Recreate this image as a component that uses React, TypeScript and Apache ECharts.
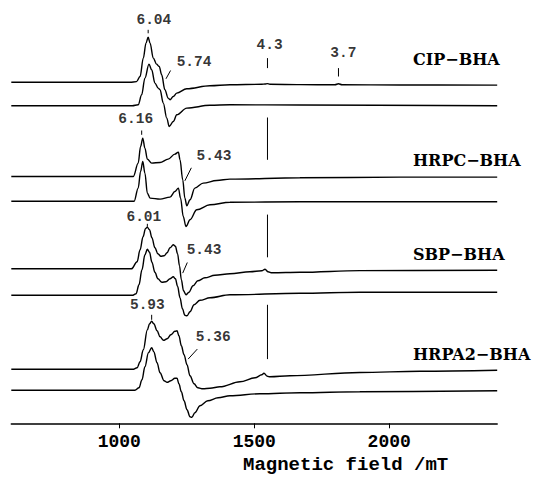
import React, { useEffect, useRef } from "react";
import * as echarts from "echarts";

// Field (mT) vs. signal relative to each trace's own baseline
const cipBhaA: [number, number][] = [
  [600, 0], [1040, 0], [1064, 0.7], [1077, 5.8], [1089, 24.2], [1099, 39.2], [1107, 45], [1114, 39.2],
  [1126, 24.2], [1138, 18.2], [1148, 15.8], [1157, 7.5], [1169, -7.5], [1181, -15.8], [1188, -17.5],
  [1200, -14.2], [1213, -10.8], [1250, -6.5], [1336, -3.5], [1410, -2.5], [1528, -2], [1540, -1.7],
  [1548, -1.3], [1558, -2], [1669, -2.3], [1799, -2.5], [1812, -1.4], [1825, -2.5], [2040, -2.7], [2400, -2.8],
];
const cipBhaB: [number, number][] = [
  [600, 0], [1048, 0], [1070, 1], [1083, 11], [1095, 27.7], [1110, 41.7], [1120, 36], [1132, 22.7],
  [1144, 17.7], [1151, 16], [1163, 2.7], [1176, -12.3], [1185, -20.7], [1200, -15.7], [1213, -9],
  [1250, -2.3], [1336, 0.5], [1410, 1], [1669, 0.8], [2400, 0],
];
const hrpcBhaA: [number, number][] = [
  [600, 0], [1052, 0], [1070, 13.4], [1079, 30], [1087, 38.4], [1095, 28.4], [1104, 17.4], [1120, 13.4],
  [1151, 14], [1181, 17.4], [1206, 22.4], [1219, 24.4], [1225, 16.7], [1235, -3.3], [1243, -21.6],
  [1250, -29.3], [1262, -23.3], [1280, -11.6], [1311, -6.6], [1361, -4], [1410, -2.6], [1669, -1.3],
  [2040, -0.6], [2400, -0.6],
];
const hrpcBhaB: [number, number][] = [
  [600, 0], [1055, 0], [1070, 13.2], [1079, 29.8], [1087, 39.8], [1095, 28.2], [1104, 8.2], [1114, 3.2],
  [1151, 2.2], [1188, 4.2], [1206, 9.8], [1219, 13.2], [1227, 3.2], [1237, -15.2], [1247, -25.2],
  [1262, -18.5], [1287, -8.5], [1336, -3.5], [1410, -1], [1669, -0.5], [2400, -0.5],
];
const sbpBhaA: [number, number][] = [
  [600, 0], [1045, 0], [1066, 7], [1077, 19], [1088, 32], [1097, 40], [1104, 41.7], [1112, 39],
  [1121, 31], [1132, 21], [1143, 15], [1154, 12.5], [1166, 13], [1177, 16], [1188, 21], [1200, 24],
  [1208, 22.5], [1216, 15], [1223, 3], [1230, -11], [1238, -22], [1247, -26], [1258, -23.5], [1273, -17],
  [1291, -12], [1317, -9], [1354, -6.5], [1410, -5], [1484, -3], [1528, -2], [1540, -0.5], [1551, -3],
  [1566, -4], [1669, -3.5], [1891, -1.8], [2400, -1.5],
];
const sbpBhaB: [number, number][] = [
  [600, 0], [1048, 0], [1062, 1.5], [1073, 10.5], [1084, 25.5], [1095, 40.5], [1104, 46], [1112, 43],
  [1121, 33], [1132, 23], [1143, 16.5], [1158, 13], [1173, 13.5], [1188, 16.5], [1200, 18.5],
  [1208, 16.5], [1216, 9], [1225, -2.5], [1234, -13.5], [1243, -20], [1251, -20.5], [1262, -16.5],
  [1277, -9.5], [1299, -5], [1336, -2.5], [1410, 0.5], [1669, 2], [1891, 3], [2400, 3],
];
const hrpa2BhaA: [number, number][] = [
  [600, 0], [1050, 0], [1066, 1.5], [1077, 7.5], [1089, 19.5], [1104, 39.5], [1112, 45.5], [1120, 48],
  [1128, 45.5], [1140, 38.5], [1151, 32.5], [1164, 29], [1177, 30.5], [1191, 34.5], [1206, 38],
  [1214, 38.5], [1221, 33.5], [1230, 23.5], [1240, 14.5], [1251, 4.5], [1262, -6.5], [1277, -14.5],
  [1291, -18.5], [1310, -19.5], [1336, -19], [1373, -17.5], [1447, -12.5], [1503, -8.5], [1528, -5.5],
  [1536, -4], [1549, -7], [1558, -7.5], [1632, -6.5], [1891, -3.2], [2114, -2], [2400, -1],
];
const hrpa2BhaB: [number, number][] = [
  [600, 0], [1058, 0], [1073, 2.5], [1084, 10.5], [1095, 23.5], [1108, 37.5], [1120, 42.5], [1128, 38.5],
  [1140, 27.5], [1151, 17.5], [1166, 9.5], [1177, 8], [1191, 9.5], [1206, 12], [1214, 12], [1221, 6.5],
  [1230, -1.5], [1240, -10.5], [1251, -19.5], [1262, -26.5], [1269, -27], [1280, -22.5], [1299, -15.5],
  [1328, -10.5], [1366, -7.5], [1410, -5.5], [1521, -3.5], [1669, -2.5], [1891, -1.5], [2400, -0.5],
];

const traces = [cipBhaA, cipBhaB, hrpcBhaA, hrpcBhaB, sbpBhaA, sbpBhaB, hrpa2BhaA, hrpa2BhaB];
const traceOffsets = [341, 317.5, 246.8, 222, 154.5, 128, 54, 33];

const sampleNames = ["CIP−BHA", "HRPC−BHA", "SBP−BHA", "HRPA2−BHA"];
const fieldTicks = [1000, 1500, 2000];

// g-value annotations: label text, label anchor (field, height), marker segment
const gLabelText = ["6.04", "5.74", "4.3", "3.7", "6.16", "5.43", "6.01", "5.43", "5.93", "5.36"];
const gLabelPos: [number, number][] = [
  [1128, 403.5], [1277, 361.8], [1557, 378], [1830, 370.5], [1061, 304.2],
  [1351, 267], [1091, 206], [1314, 173.5], [1104, 118], [1348, 86.8],
];
const gMarkers: [number, number][][] = [
  [[1107, 393.5], [1107, 390]],
  [[1173, 344.5], [1190, 352.8]],
  [[1549, 365.2], [1549, 355.2]],
  [[1812, 355.2], [1812, 346.8]],
  [[1083, 292.8], [1083, 288.5]],
  [[1243, 242.5], [1267, 255.5]],
  [[1104, 199.5], [1104, 196.5]],
  [[1235, 150.2], [1252, 160.8]],
  [[1120, 108.5], [1120, 103.5]],
  [[1255, 64.2], [1289, 74.2]],
  [[1549, 305.8], [1549, 263.5]],
  [[1549, 208.7], [1549, 166]],
  [[1549, 118.5], [1549, 64.2]],
];

export default function App() {
  const ref = useRef<HTMLDivElement>(null);
  useEffect(() => {
    if (!ref.current) return;
    const chart = echarts.init(ref.current, null, { renderer: "svg" });
    const mono = "'Liberation Mono', 'DejaVu Sans Mono', monospace";
    const series: any[] = [];
    traces.forEach((t, i) => {
      series.push({
        type: "line",
        data: t.map(([x, y]) => [x, y + traceOffsets[i]]),
        showSymbol: false,
        symbol: "none",
        smooth: 0.35,
        smoothMonotone: "x",
        lineStyle: { color: "#000", width: 1.4 },
        silent: true,
      });
    });
    gMarkers.forEach((seg) => {
      series.push({
        type: "line",
        data: seg,
        showSymbol: false,
        symbol: "none",
        lineStyle: { color: "#000", width: 1 },
        silent: true,
      });
    });
    series.push({
      type: "scatter",
      symbolSize: 0,
      silent: true,
      data: gLabelText.map((t, i) => ({ name: t, value: gLabelPos[i] })),
      label: {
        show: true,
        position: "inside",
        formatter: "{b}",
        color: "#000",
        fontFamily: mono,
        fontWeight: "bold",
        fontSize: 14.5,
      },
    });
    const labelY = [59, 160, 254, 354];
    chart.setOption({
      animation: false,
      backgroundColor: "#fff",
      grid: { left: 11.3, right: 37.8, top: 10, bottom: 53.7 },
      xAxis: {
        type: "value",
        min: 600,
        max: 2400,
        interval: 100,
        axisLine: { show: true, onZero: false, lineStyle: { color: "#000", width: 1.5 } },
        axisTick: {
          show: true,
          customValues: fieldTicks,
          length: 5,
          inside: false,
          lineStyle: { color: "#000", width: 1 },
        },
        splitLine: { show: false },
        axisLabel: {
          margin: 10,
          color: "#000",
          fontFamily: mono,
          fontWeight: "bold",
          fontSize: 18,
          customValues: fieldTicks,
          formatter: (v: number) => (fieldTicks.includes(v) ? String(v) : ""),
        },
      },
      yAxis: { type: "value", min: 0, max: 413.3, show: false },
      series,
      graphic: [
        ...sampleNames.map((n, i) => ({
          type: "text",
          x: 413,
          y: labelY[i],
          style: {
            text: n,
            fill: "#000",
            font: "bold 16px 'DejaVu Serif', serif",
            verticalAlign: "middle",
            align: "left",
          },
        })),
        {
          type: "text",
          x: 243,
          y: 465,
          style: {
            text: "Magnetic field /mT",
            fill: "#000",
            font: "bold 19px 'Liberation Mono', monospace",
            verticalAlign: "middle",
            align: "left",
          },
        },
      ],
    });
    return () => chart.dispose();
  }, []);
  return (
    <div
      ref={ref}
      style={{ position: "absolute", left: 0, top: 0, width: 535, height: 477 }}
    />
  );
}
